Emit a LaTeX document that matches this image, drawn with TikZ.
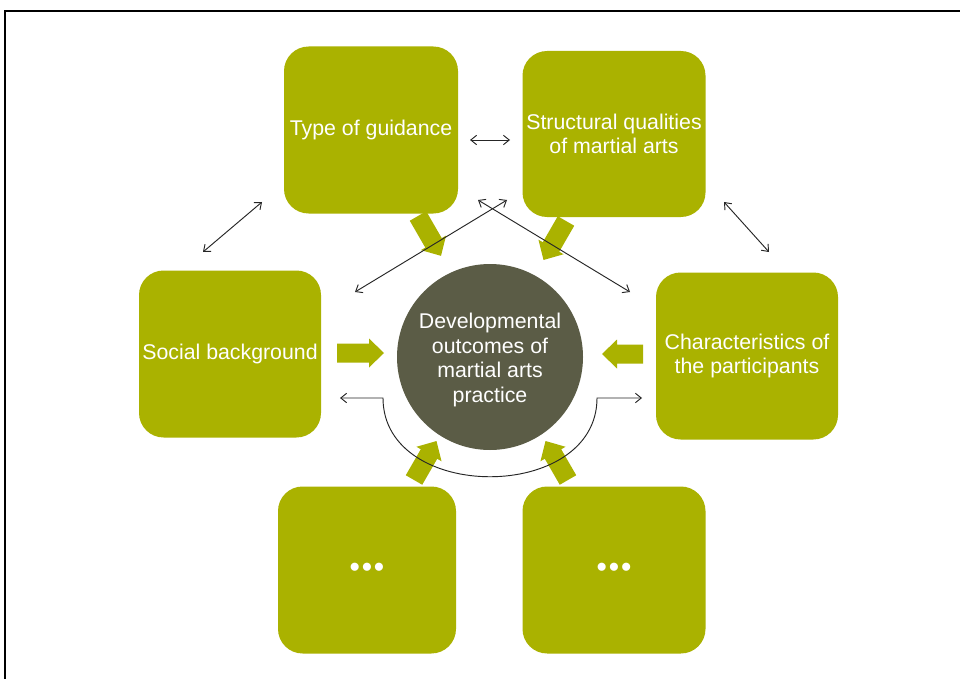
\documentclass[tikz,border=0pt]{standalone}
\usepackage{fontspec}
\setmainfont{Liberation Sans}
\usetikzlibrary{arrows.meta}
\definecolor{molive}{RGB}{170,178,0}
\definecolor{mdark}{RGB}{91,92,70}

% block arrow: tail at (#1,#2), angle #3, length #4
\newcommand{\blockarr}[4]{%
  \fill[molive,shift={(#1,#2)},rotate=#3]
    (0,-9.5) -- ({#4-15},-9.5) -- ({#4-15},-14.5) -- (#4,0)
    -- ({#4-15},14.5) -- ({#4-15},9.5) -- (0,9.5) -- cycle;}

\begin{document}
\begin{tikzpicture}[x=0.03cm,y=-0.03cm,
  box/.style={rounded corners=21pt,fill=molive,text=white,align=center,
              font=\fontsize{18.2}{21}\selectfont,inner sep=2pt},
  hub/.style={circle,fill=mdark,text=white,align=center,minimum size=186*0.03cm,
              font=\fontsize{18.2}{21}\selectfont,inner sep=0pt},
  arr/.style={{Straight Barb[length=5pt,width=8pt]}-{Straight Barb[length=5pt,width=8pt]},
              line width=0.8pt,black!85}
]
\clip (0,0) rectangle (960,679);
\fill[white] (0,0) rectangle (960,679);
\draw[line width=2.4pt] (5,11) rectangle (990,720);

% ── boxes ──────────────────────────────────────────────
\node[box,minimum width=174*0.03cm,minimum height=167*0.03cm] (guide)  at (371,130) {Type of guidance};
\node[box,minimum width=183*0.03cm,minimum height=166*0.03cm] (struct) at (614,134) {Structural qualities\\of martial arts};
\node[box,minimum width=182*0.03cm,minimum height=167*0.03cm] (social) at (230,354) {Social background};
\node[box,minimum width=182*0.03cm,minimum height=167*0.03cm] (chars)  at (747,356) {Characteristics of\\the participants};
\node[box,minimum width=178*0.03cm,minimum height=167*0.03cm,font=\fontsize{24}{26}\selectfont\bfseries] (etcL) at (367,570) {\textbullet\hspace{2pt}\textbullet\hspace{2pt}\textbullet};
\node[box,minimum width=183*0.03cm,minimum height=167*0.03cm,font=\fontsize{24}{26}\selectfont\bfseries] (etcR) at (614,570) {\textbullet\hspace{2pt}\textbullet\hspace{2pt}\textbullet};

% ── centre ─────────────────────────────────────────────
\node[hub] (out) at (490,357) {};
\node[text=white,align=center,font=\fontsize{18.2}{20.9}\selectfont] (outtxt) at (490,360)
  {Developmental\\outcomes of\\martial arts\\practice};

% ── block arrows ───────────────────────────────────────
\blockarr{337}{353}{0}{47}
\blockarr{643}{354}{180}{41}
\blockarr{418}{216}{-60}{46}
\blockarr{566}{221}{-120}{45}
\blockarr{414}{480}{60}{45}
\blockarr{568}{480}{120}{45}

% ── thin arrows ────────────────────────────────────────
\coordinate (g1) at (470,140); \coordinate (s1) at (510,140);
\coordinate (g2) at (262,202); \coordinate (so1) at (203,252);
\coordinate (s2) at (724,202); \coordinate (c1) at (769,252);
\coordinate (xa) at (355,292); \coordinate (xb) at (507,200);
\coordinate (xc) at (630,292); \coordinate (xd) at (478,200);
\coordinate (la) at (340,398); \coordinate (lb) at (383,398);
\coordinate (ra) at (597,398); \coordinate (rb) at (642,398);

\draw[arr] (g1) -- (s1);
\draw[arr] (g2) -- (so1);
\draw[arr] (s2) -- (c1);
\draw[arr] (xa) -- (xb);
\draw[arr] (xc) -- (xd);
\draw[arr] (la) -- (lb) .. controls (383,503) and (597,503) .. (ra) -- (rb);

\end{tikzpicture}
\end{document}
